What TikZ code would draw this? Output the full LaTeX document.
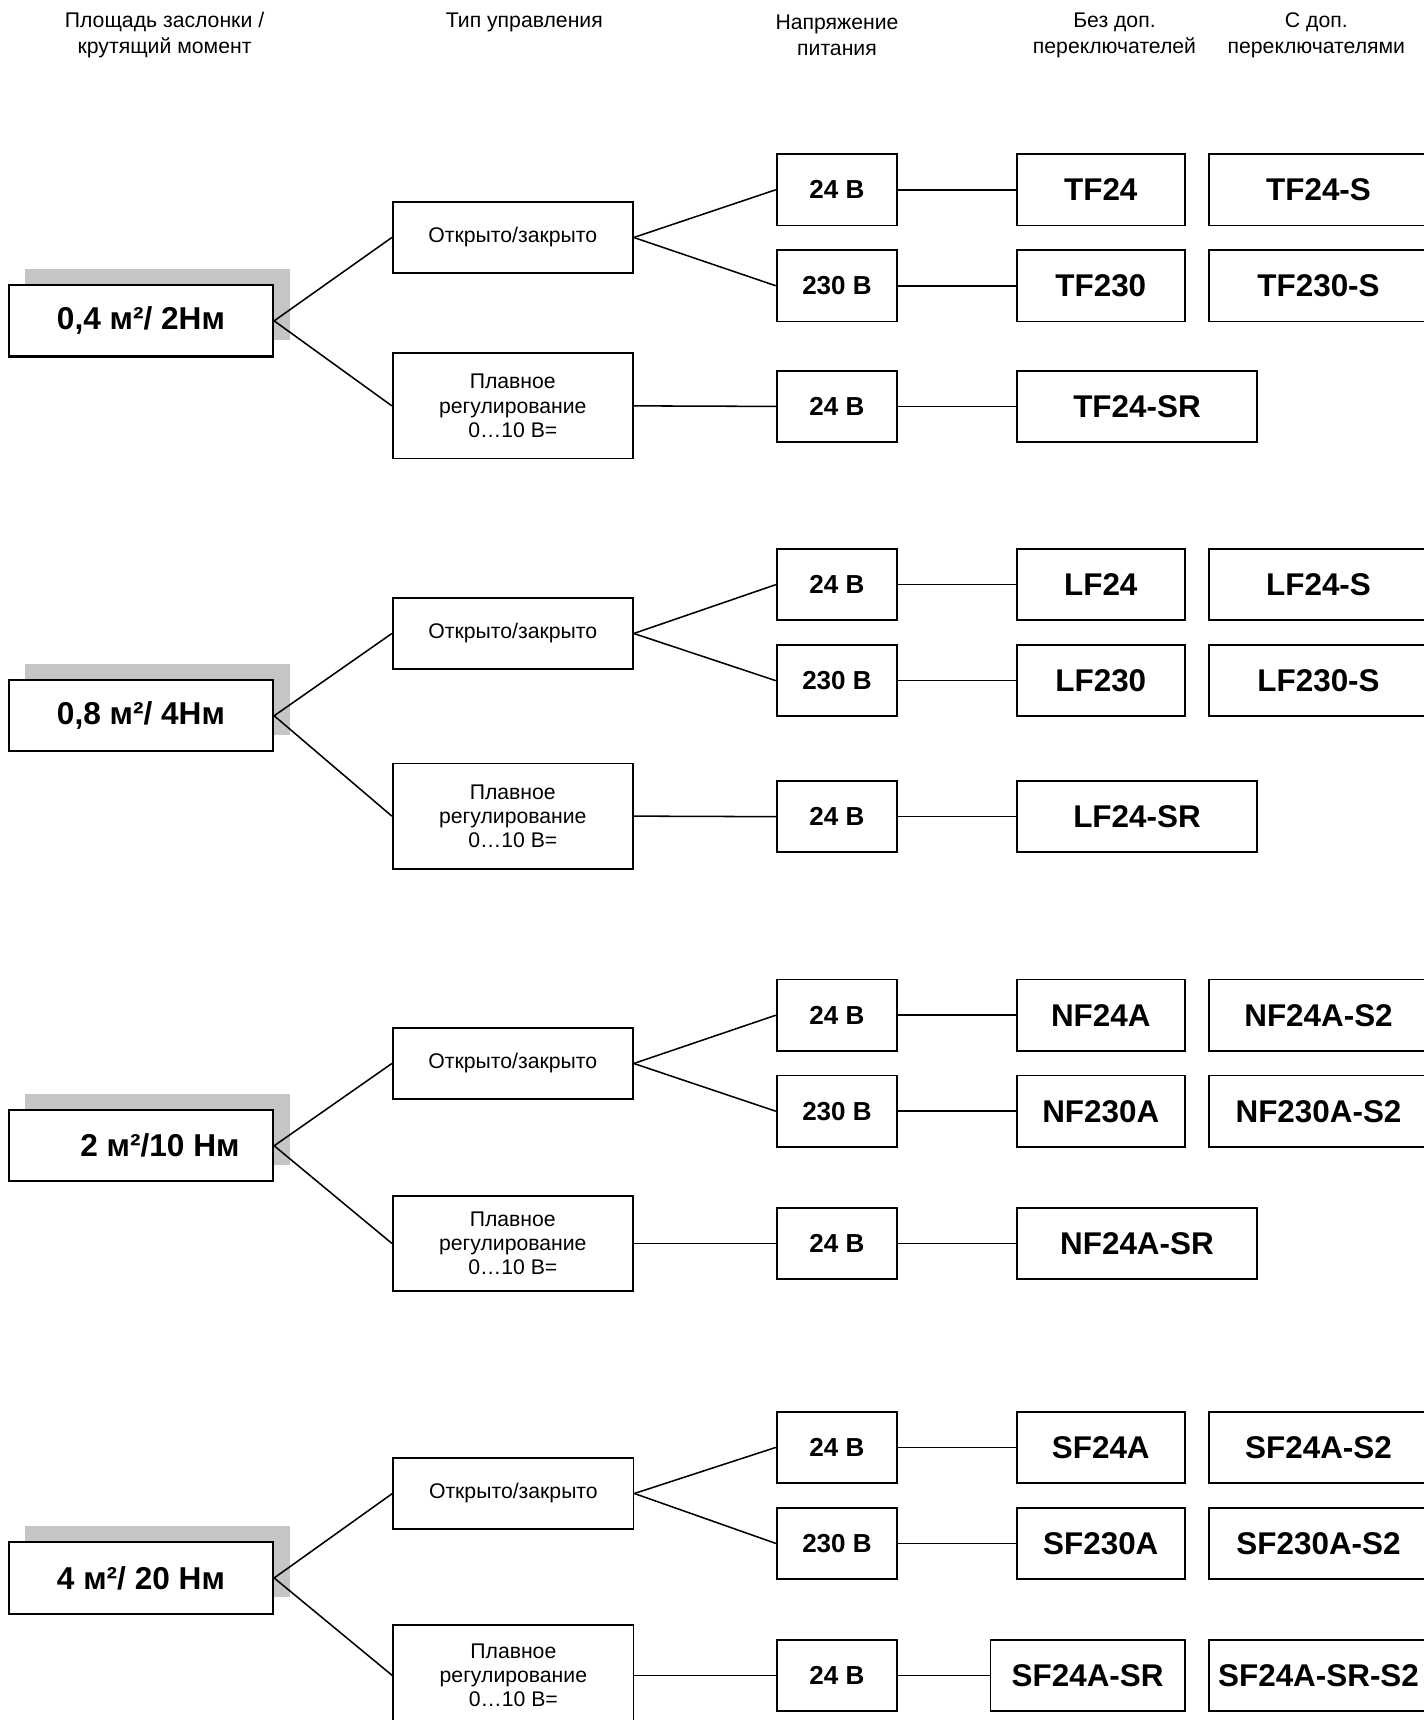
\documentclass[tikz,border=0pt]{standalone}
\usepackage{fontspec}
\setmainfont{Liberation Sans}
\usetikzlibrary{shadows}
\definecolor{shadowgray}{RGB}{196,197,199}

\begin{document}
\begin{tikzpicture}[x=0.02cm, y=-0.02cm,
        head/.style={align=center, font=\fontsize{11}{13.5}\selectfont},
        sizebox/.style={draw, line width=1.1pt, fill=white, minimum width=4.82cm, minimum height=1.3cm, font=\bfseries\fontsize{16.4}{19}\selectfont, drop shadow={shadow xshift=0.3cm, shadow yshift=0.3cm, fill=shadowgray, opacity=1}},
        ctrl/.style={draw, line width=0.9pt, minimum width=4.38cm, minimum height=1.3cm, align=center, font=\fontsize{11}{12.5}\selectfont},
        ctrlsr/.style={ctrl, minimum height=1.92cm},
        volt/.style={draw, line width=0.9pt, minimum width=2.2cm, minimum height=1.3cm, font=\bfseries\fontsize{13.5}{16}\selectfont},
        model/.style={draw, line width=0.9pt, minimum width=3.06cm, minimum height=1.3cm, font=\bfseries\fontsize{16.3}{19}\selectfont},
        models/.style={model, minimum width=4cm},
        modelsr/.style={model, minimum width=4.38cm},
        link/.style={line width=0.8pt}
    ]
        \path[use as bounding box, clip] (0,0) rectangle (1298,1568);

        % --- Column headers ---
        \node[head] (hArea) at (150,32) {Площадь заслонки /\\крутящий момент};
        \node[head] (hCtrl) at (478,20) {Тип управления};
        \node[head] (hVolt) at (763,32) {Напряжение\\питания};
        \node[head] (hBase) at (1016,32) {Без доп.\\переключателей};
        \node[head] (hAux) at (1200,32) {С доп.\\переключателями};

        % --- Group 1: 0,4 m2 ---
        \node[sizebox] (s1) at (128.5,292.5) {0,4 м²/ 2Нм};
        \node[ctrl] (oc1) at (467.5,216.5) {Открыто/закрыто};
        \node[ctrlsr] (pr1) at (467.5,370) {Плавное\\регулирование\\0…10 В=};
        \node[volt] (va1) at (763,173) {24 В};
        \node[volt] (vb1) at (763,260.5) {230 В};
        \node[volt] (vc1) at (763,370.5) {24 В};
        \node[model] (tf24) at (1003.5,173) {TF24};
        \node[model] (tf230) at (1003.5,260.5) {TF230};
        \node[models] (tf24s) at (1202,173) {TF24-S};
        \node[models] (tf230s) at (1202,260.5) {TF230-S};
        \node[modelsr] (tf24sr) at (1036.5,370.5) {TF24-SR};

        \draw[link] (s1.east) -- (oc1.west);
        \draw[link] (s1.east) -- (pr1.west);
        \draw[link] (oc1.east) -- (va1.west);
        \draw[link] (oc1.east) -- (vb1.west);
        \draw[link] (pr1.east) -- (vc1.west);
        \draw[link] (va1.east) -- (tf24.west);
        \draw[link] (vb1.east) -- (tf230.west);
        \draw[link] (vc1.east) -- (tf24sr.west);

        % --- Group 2: 0,8 m2 ---
        \node[sizebox] (s2) at (128.5,652.5) {0,8 м²/ 4Нм};
        \node[ctrl] (oc2) at (467.5,577.5) {Открыто/закрыто};
        \node[ctrlsr] (pr2) at (467.5,744) {Плавное\\регулирование\\0…10 В=};
        \node[volt] (va2) at (763,533) {24 В};
        \node[volt] (vb2) at (763,620.5) {230 В};
        \node[volt] (vc2) at (763,744.5) {24 В};
        \node[model] (lf24) at (1003.5,533) {LF24};
        \node[model] (lf230) at (1003.5,620.5) {LF230};
        \node[models] (lf24s) at (1202,533) {LF24-S};
        \node[models] (lf230s) at (1202,620.5) {LF230-S};
        \node[modelsr] (lf24sr) at (1036.5,744.5) {LF24-SR};

        \draw[link] (s2.east) -- (oc2.west);
        \draw[link] (s2.east) -- (pr2.west);
        \draw[link] (oc2.east) -- (va2.west);
        \draw[link] (oc2.east) -- (vb2.west);
        \draw[link] (pr2.east) -- (vc2.west);
        \draw[link] (va2.east) -- (lf24.west);
        \draw[link] (vb2.east) -- (lf230.west);
        \draw[link] (vc2.east) -- (lf24sr.west);

        % --- Group 3: 2 m2 ---
        \node[sizebox] (s3) at (128.5,1044.5) {\hspace{1.2em}2 м²/10 Нм};
        \node[ctrl] (oc3) at (467.5,969.5) {Открыто/закрыто};
        \node[ctrlsr, minimum height=1.74cm] (pr3) at (467.5,1133.5) {Плавное\\регулирование\\0…10 В=};
        \node[volt] (va3) at (763,925.5) {24 В};
        \node[volt] (vb3) at (763,1013) {230 В};
        \node[volt] (vc3) at (763,1133.5) {24 В};
        \node[model] (nf24) at (1003.5,925.5) {NF24A};
        \node[model] (nf230) at (1003.5,1013) {NF230A};
        \node[models] (nf24s) at (1202,925.5) {NF24A-S2};
        \node[models] (nf230s) at (1202,1013) {NF230A-S2};
        \node[modelsr] (nf24sr) at (1036.5,1133.5) {NF24A-SR};

        \draw[link] (s3.east) -- (oc3.west);
        \draw[link] (s3.east) -- (pr3.west);
        \draw[link] (oc3.east) -- (va3.west);
        \draw[link] (oc3.east) -- (vb3.west);
        \draw[link] (pr3.east) -- (vc3.west);
        \draw[link] (va3.east) -- (nf24.west);
        \draw[link] (vb3.east) -- (nf230.west);
        \draw[link] (vc3.east) -- (nf24sr.west);

        % --- Group 4: 4 m2 ---
        \node[sizebox] (s4) at (128.5,1438.5) {4 м²/ 20 Нм};
        \node[ctrl] (oc4) at (468,1361.5) {Открыто/закрыто};
        \node[ctrlsr, minimum height=1.84cm] (pr4) at (468,1527.5) {Плавное\\регулирование\\0…10 В=};
        \node[volt] (va4) at (763,1319.5) {24 В};
        \node[volt] (vb4) at (763,1407) {230 В};
        \node[volt] (vc4) at (763,1527.5) {24 В};
        \node[model] (sf24) at (1003.5,1319.5) {SF24A};
        \node[model] (sf230) at (1003.5,1407) {SF230A};
        \node[models] (sf24s) at (1202,1319.5) {SF24A-S2};
        \node[models] (sf230s) at (1202,1407) {SF230A-S2};
        \node[model, minimum width=3.54cm] (sf24sr) at (991.5,1527.5) {SF24A-SR};
        \node[models] (sf24srs) at (1202,1527.5) {SF24A-SR-S2};

        \draw[link] (s4.east) -- (oc4.west);
        \draw[link] (s4.east) -- (pr4.west);
        \draw[link] (oc4.east) -- (va4.west);
        \draw[link] (oc4.east) -- (vb4.west);
        \draw[link] (pr4.east) -- (vc4.west);
        \draw[link] (va4.east) -- (sf24.west);
        \draw[link] (vb4.east) -- (sf230.west);
        \draw[link] (vc4.east) -- (sf24sr.west);

    \end{tikzpicture}
\end{document}
